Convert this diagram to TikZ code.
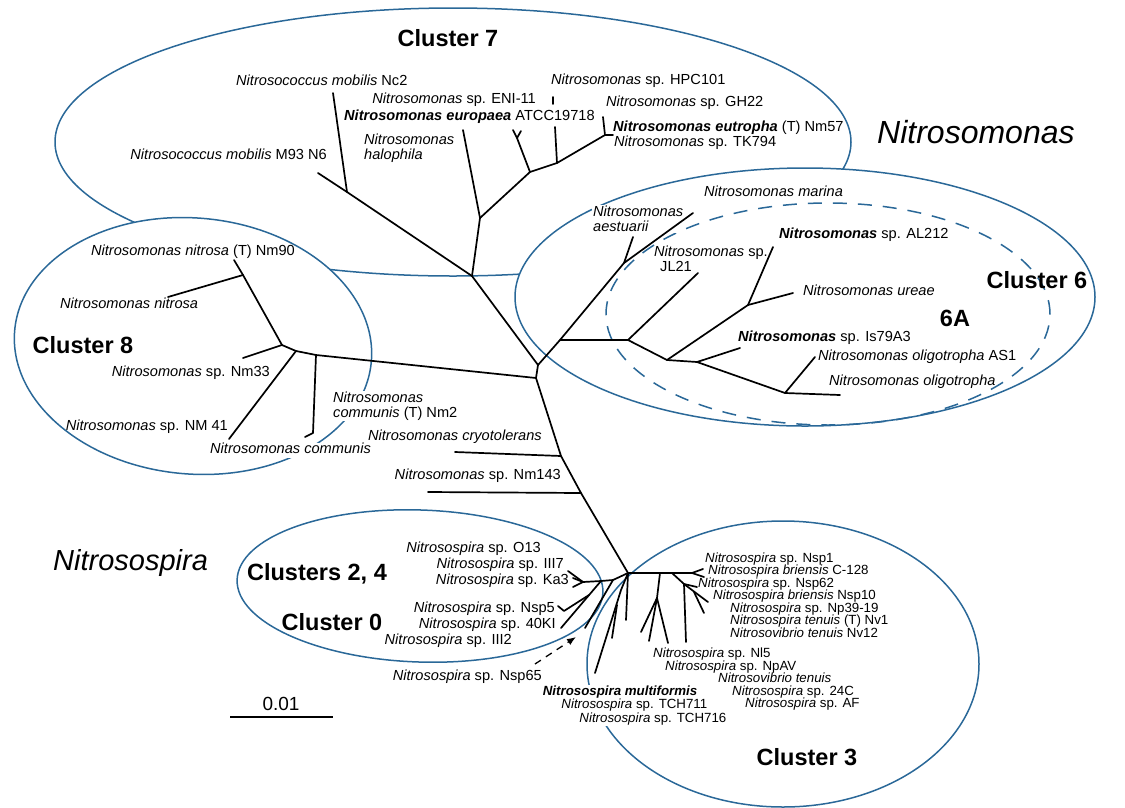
\documentclass[tikz,border=0pt]{standalone}
\usepackage{fontspec}
\setmainfont{Liberation Sans}
\usetikzlibrary{arrows.meta}
\definecolor{cblue}{RGB}{42,104,152}
\newcommand{\gi}[1]{\textit{#1}}
\newcommand{\gb}[1]{\textbf{\textit{#1}}}
\begin{document}
\begin{tikzpicture}[x=1pt,y=-1pt,
  tree/.style={line width=1.7pt, line cap=round, line join=round},
  clus/.style={draw=cblue, line width=1.5pt},
  lab/.style={font=\fontsize{14.6}{15}\selectfont, inner sep=1pt, text height=10pt, text depth=3pt, anchor=west},
  dense/.style={font=\fontsize{13.3}{14}\selectfont, inner sep=0pt, text height=9.5pt, text depth=2.6pt, anchor=west},
  labtwo/.style={font=\fontsize{14.6}{15}\selectfont, inner sep=1pt, align=left, anchor=west},
  mask/.style={fill=white},
  ctitle/.style={font=\fontsize{23.5}{26}\selectfont\bfseries, inner sep=0pt},
  biglab/.style={font=\fontsize{32}{36}\selectfont\itshape, inner sep=0pt, anchor=west}]
\useasboundingbox (0,0) rectangle (1125,807);

% ---------- cluster ellipses ----------
\draw[clus] (453,142) ellipse [x radius=398pt, y radius=134pt];
\draw[clus, fill=white, rotate around={-5:(193,346)}] (193,346) ellipse [x radius=179pt, y radius=128pt];
\draw[clus, fill=white] (805,297) ellipse [x radius=290pt, y radius=129pt];
\draw[clus, dash pattern=on 14pt off 11pt] (828,314) ellipse [x radius=222pt, y radius=111pt];
\draw[clus, rotate around={-2:(420,586)}] (420,586) ellipse [x radius=183pt, y radius=76pt];
\draw[clus] (783,664) ellipse [x radius=196pt, y radius=143pt];

% ---------- titles ----------
\node[ctitle] (c7lab) at (448,38) {Cluster 7};
\node[ctitle] (c6lab) at (1037,280) {Cluster 6};
\node[ctitle] (c6a) at (955,318) {6A};
\node[ctitle] (c8lab) at (83,345) {Cluster 8};
\node[ctitle] (c24lab) at (317,574) {Clusters 2, 4};
\node[ctitle] (c0lab) at (332,622) {Cluster 0};
\node[ctitle] (c3lab) at (807,757) {Cluster 3};
\node[biglab] (bigNm) at (877,132) {Nitrosomonas};
\node[biglab, font=\fontsize{29}{33}\selectfont\itshape] (bigNs) at (53,563) {Nitrosospira};

% ---------- labels: cluster 7 ----------
\node[lab] (lNc2) at (235,82) {\gi{Nitrosococcus mobilis} Nc2};
\node[lab, anchor=east] (lENI) at (537,100) {\gi{Nitrosomonas} sp. ENI-11};
\node[lab] (lEur) at (343,117) {\gb{Nitrosomonas europaea} ATCC19718};
\node[labtwo] (lHal) at (363,148) {\gi{Nitrosomonas}\\\gi{halophila}};
\node[lab, anchor=east] (lM93) at (328,156) {\gi{Nitrosococcus mobilis} M93 N6};
\node[lab] (lHPC) at (550,81) {\gi{Nitrosomonas} sp. HPC101};
\node[lab] (lGH) at (605,103) {\gi{Nitrosomonas} sp. GH22};
\node[lab] (lEut) at (612,128) {\gb{Nitrosomonas eutropha} (T) Nm57};
\node[lab] (lTK) at (613,143) {\gi{Nitrosomonas} sp. TK794};

% ---------- labels: cluster 6 ----------
\node[lab] (lMar) at (703,193) {\gi{Nitrosomonas marina}};
\node[labtwo, mask] (lAes) at (592,219) {\gi{Nitrosomonas}\\\gi{aestuarii}};
\node[labtwo] (lJL) at (653,259) {\gi{Nitrosomonas} sp.\\\hspace*{6pt}JL21};
\node[lab] (lAL) at (778,235) {\gb{Nitrosomonas} sp. AL212};
\node[lab] (lUr) at (802,292) {\gi{Nitrosomonas ureae}};
\node[lab] (lIs) at (737,338) {\gb{Nitrosomonas} sp. Is79A3};
\node[lab] (lAS) at (817,357) {\gi{Nitrosomonas oligotropha} AS1};
\node[lab] (lOl) at (828,382) {\gi{Nitrosomonas oligotropha}};

% ---------- labels: cluster 8 ----------
\node[lab, anchor=east] (lNm90) at (296,252) {\gi{Nitrosomonas nitrosa} (T) Nm90};
\node[lab] (lNitr) at (59,305) {\gi{Nitrosomonas nitrosa}};
\node[lab, anchor=east] (lNm33) at (271,373) {\gi{Nitrosomonas} sp. Nm33};
\node[lab, anchor=east] (lNM41) at (229,427) {\gi{Nitrosomonas} sp. NM 41};
\node[labtwo, mask] (lComT) at (332,406) {\gi{Nitrosomonas}\\\gi{communis} (T) Nm2};
\node[lab, mask] (lCom) at (209,450) {\gi{Nitrosomonas communis}};
\node[lab, anchor=east] (lCryo) at (543,437) {\gi{Nitrosomonas cryotolerans}};
\node[lab, anchor=east] (lNm143) at (562,476) {\gi{Nitrosomonas} sp. Nm143};

% ---------- labels: Nitrosospira ----------
\node[lab, anchor=east] (lO13) at (542,549) {\gi{Nitrosospira} sp. O13};
\node[lab, anchor=east] (lIII7) at (565,565) {\gi{Nitrosospira} sp. III7};
\node[lab, anchor=east] (lKa3) at (570,581) {\gi{Nitrosospira} sp. Ka3};
\node[lab, anchor=east] (lNsp5) at (556,609) {\gi{Nitrosospira} sp. Nsp5};
\node[lab, anchor=east] (l40KI) at (557,625) {\gi{Nitrosospira} sp. 40KI};
\node[lab, anchor=east] (lIII2) at (513,641) {\gi{Nitrosospira} sp. III2};
\node[lab, anchor=east] (lNsp65) at (543,677) {\gi{Nitrosospira} sp. Nsp65};
\node[dense, anchor=east, mask, inner sep=0.5pt] (lMul) at (698,692) {\gb{Nitrosospira multiformis}};
\node[dense, anchor=east, mask, inner sep=0.5pt] (lT711) at (708,705) {\gi{Nitrosospira} sp. TCH711};
\node[dense, anchor=east, mask, inner sep=0.5pt] (lT716) at (727,719) {\gi{Nitrosospira} sp. TCH716};
\node[dense] (lNsp1) at (705,559) {\gi{Nitrosospira} sp. Nsp1};
\node[dense] (lC128) at (708,571.5) {\gi{Nitrosospira briensis} C-128};
\node[dense] (lNsp62) at (698,584) {\gi{Nitrosospira} sp. Nsp62};
\node[dense] (lNsp10) at (713,596.5) {\gi{Nitrosospira briensis} Nsp10};
\node[dense] (lNp39) at (730,609) {\gi{Nitrosospira} sp. Np39-19};
\node[dense] (lNv1) at (730,621.5) {\gi{Nitrosospira tenuis} (T) Nv1};
\node[dense] (lNv12) at (730,634) {\gi{Nitrosovibrio tenuis} Nv12};
\node[dense] (lNl5) at (653,654.5) {\gi{Nitrosospira} sp. Nl5};
\node[dense] (lNpAV) at (665,667) {\gi{Nitrosospira} sp. NpAV};
\node[dense] (lNvib) at (718,679.5) {\gi{Nitrosovibrio tenuis}};
\node[dense] (l24C) at (732,692) {\gi{Nitrosospira} sp. 24C};
\node[dense] (lAF) at (745,704.5) {\gi{Nitrosospira} sp. AF};

% ---------- scale bar ----------
\coordinate (sb1) at (230,717);
\coordinate (sb2) at (333,717);
\draw[line width=1.5pt] (sb1) -- (sb2);
\node[font=\fontsize{19}{21}\selectfont, inner sep=0pt] (sbl) at (281,704) {0.01};

% ---------- tree coordinates ----------
\coordinate (A) at (472,276);
\coordinate (R1) at (538,365);
\coordinate (R2) at (536,378);
% cluster 7
\coordinate (M93) at (318,173);
\coordinate (NCa) at (347,192);
\coordinate (Nc2) at (333,93);
\coordinate (B) at (480,218);
\coordinate (Hal) at (463,130);
\coordinate (J1) at (530,172);
\coordinate (Yf) at (517,138);
\coordinate (Ya) at (513,130);
\coordinate (Yb) at (521,131);
\coordinate (J2) at (557,163);
\coordinate (ATCC) at (555,127);
\coordinate (HPCa) at (553,97);
\coordinate (HPCb) at (553,104);
\coordinate (J3) at (605,135);
\coordinate (Eu) at (603,117);
\coordinate (TK) at (613,135);
% cluster 6
\coordinate (C) at (560,340);
\coordinate (MA) at (624,263);
\coordinate (Mar) at (693,213);
\coordinate (Aes) at (633,237);
\coordinate (D) at (628,340);
\coordinate (JL) at (698,273);
\coordinate (E) at (667,360);
\coordinate (F) at (748,305);
\coordinate (AL) at (773,247);
\coordinate (Ur) at (793,293);
\coordinate (G) at (697,362);
\coordinate (Is) at (740,348);
\coordinate (Hh) at (785,393);
\coordinate (AS) at (815,357);
\coordinate (Ol) at (840,395);
% cluster 8
\coordinate (P) at (316,355);
\coordinate (Q) at (296,351);
\coordinate (S) at (282,345);
\coordinate (T) at (243,275);
\coordinate (Nm90) at (234,260);
\coordinate (Nitr) at (168,297);
\coordinate (Nm33) at (243,358);
\coordinate (NM41) at (229,439);
\coordinate (ComB) at (313,433);
\coordinate (ComT) at (305,437);
% stem
\coordinate (K1) at (561,456);
\coordinate (Cryo) at (455,452);
\coordinate (K2) at (581,493);
\coordinate (N143) at (428,492);
\coordinate (H) at (628,573);
% Nitrosospira bush
\coordinate (Rf) at (692,573);
\coordinate (Rt1) at (703,569);
\coordinate (Rt2) at (704,577);
\coordinate (Lf1) at (613,580);
\coordinate (Lf2) at (601,581);
\coordinate (Lk) at (583,582);
\coordinate (Lk1) at (568,571);
\coordinate (Lk2) at (573,578);
\coordinate (Lk3) at (573,587);
\coordinate (K40) at (561,628);
\coordinate (N5a) at (589,595);
\coordinate (N5) at (564,611);
\coordinate (N5t) at (558,606);
\coordinate (T65) at (585,628);
\coordinate (Lg1) at (621,590);
\coordinate (Lmul) at (595,673);
\coordinate (Lg2) at (617,605);
\coordinate (Lg2t) at (612,638);
\coordinate (Lh) at (626,620);
\coordinate (V0) at (660,573);
\coordinate (V) at (657,598);
\coordinate (V1) at (641,632);
\coordinate (V2) at (649,641);
\coordinate (V3) at (668,643);
\coordinate (W0) at (672,573);
\coordinate (W1) at (684,584);
\coordinate (W1t) at (708,602);
\coordinate (W62) at (697,587);
\coordinate (W2) at (694,592);
\coordinate (W2t) at (704,613);
\coordinate (W1d) at (686,642);
\coordinate (A65a) at (535,664);
\coordinate (A65b) at (576,637);

% ---------- tree ----------
\draw[tree] (M93) -- (NCa) -- (A) -- (R1) -- (R2) -- (K1) -- (K2) -- (H);
\draw[tree] (NCa) -- (Nc2);
\draw[tree] (A) -- (B) -- (Hal);
\draw[tree] (B) -- (J1) -- (J2) -- (J3) -- (TK);
\draw[tree] (J1) -- (Yf) -- (Ya);
\draw[tree] (Yf) -- (Yb);
\draw[tree] (J2) -- (ATCC);
\draw[tree] (HPCa) -- (HPCb);
\draw[tree] (J3) -- (Eu);
% cluster 6
\draw[tree] (R1) -- (C) -- (MA) -- (Mar);
\draw[tree] (MA) -- (Aes);
\draw[tree] (C) -- (D) -- (JL);
\draw[tree] (D) -- (E) -- (F) -- (AL);
\draw[tree] (F) -- (Ur);
\draw[tree] (E) -- (G) -- (Is);
\draw[tree] (G) -- (Hh) -- (AS);
\draw[tree] (Hh) -- (Ol);
% cluster 8
\draw[tree] (R2) -- (P) -- (Q) -- (S) -- (T) -- (Nm90);
\draw[tree] (T) -- (Nitr);
\draw[tree] (S) -- (Nm33);
\draw[tree] (Q) -- (NM41);
\draw[tree] (P) -- (ComB) -- (ComT);
% stem side branches
\draw[tree] (K1) -- (Cryo);
\draw[tree] (K2) -- (N143);
% Nitrosospira
\draw[tree] (H) -- (Rf) -- (Rt1);
\draw[tree] (Rf) -- (Rt2);
\draw[tree] (H) -- (Lf1) -- (Lf2) -- (Lk) -- (Lk1);
\draw[tree] (Lk) -- (Lk2);
\draw[tree] (Lk) -- (Lk3);
\draw[tree] (Lf2) -- (K40);
\draw[tree] (N5a) -- (N5) -- (N5t);
\draw[tree] (Lf1) -- (T65);
\draw[tree] (H) -- (Lg1) -- (Lmul);
\draw[tree] (Lg2) -- (Lg2t);
\draw[tree] (H) -- (Lh);
\draw[tree] (V0) -- (V) -- (V1);
\draw[tree] (V) -- (V2);
\draw[tree] (V) -- (V3);
\draw[tree] (W0) -- (W1) -- (W1t);
\draw[tree] (W1) -- (W62);
\draw[tree] (W2) -- (W2t);
\draw[tree] (W1) -- (W1d);
\draw[line width=1.3pt, dash pattern=on 7pt off 6pt, -{Latex[length=9pt,width=7pt]}] (A65a) -- (A65b);
\end{tikzpicture}
\end{document}
